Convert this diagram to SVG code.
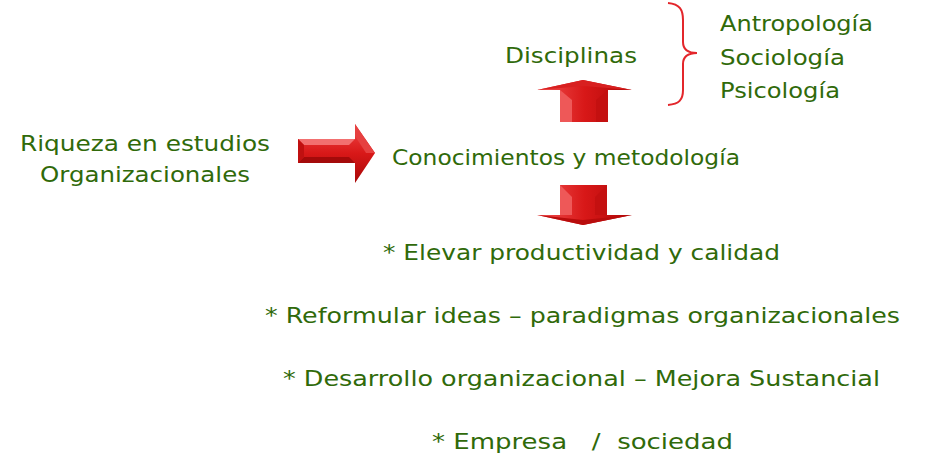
<svg xmlns="http://www.w3.org/2000/svg" width="926" height="476" viewBox="0 0 926 476">
<style>
.t{font-family:"DejaVu Sans","Liberation Sans",sans-serif;font-size:21px;fill:#306a0a;}
.br{fill:none;stroke:#e3262b;stroke-width:2;}
</style>
<defs>
<linearGradient id="gh" x1="0" y1="0" x2="0" y2="1">
<stop offset="0" stop-color="#f04848"/><stop offset="0.5" stop-color="#d81818"/><stop offset="1" stop-color="#a80808"/>
</linearGradient>
<linearGradient id="gv" x1="0" y1="0" x2="1" y2="0">
<stop offset="0" stop-color="#f05050"/><stop offset="0.5" stop-color="#d81818"/><stop offset="1" stop-color="#b00808"/>
</linearGradient>
</defs>
<g id="connectors">
<g id="arrow-right">
<polygon points="298,139 355,139 355,124 375,153 355,183 355,163 298,163" fill="url(#gh)"/>
<polygon points="298,139 355,139 349,145 304,145" fill="#f27070"/>
<polygon points="298,163 355,163 349,157 304,157" fill="#a40a0a"/>
<polygon points="298,139 304,145 304,157 298,163" fill="#c01010"/>
<polygon points="355,124 375,153 366,153 355,136" fill="#e64040"/>
</g>
<g id="arrow-up">
<polygon points="537,90 583,80 632,90 608,90 608,122 560,122 560,90" fill="url(#gv)"/>
<polygon points="560,90 572,100 572,122 560,122" fill="#ee5858"/>
<polygon points="608,90 596,100 596,122 608,122" fill="#c41010"/>
<polygon points="537,90 583,80 632,90 583,86" fill="#d82020"/>
</g>
<g id="arrow-down">
<polygon points="560,185 607,185 607,215 632,215 583,225 537,215 560,215" fill="url(#gv)"/>
<polygon points="560,185 572,197 572,215 560,215" fill="#ee5858"/>
<polygon points="607,185 595,197 595,215 607,215" fill="#c41010"/>
<polygon points="537,215 583,225 632,215 583,220" fill="#b80c0c"/>
</g>
<path id="brace" class="br" d="M668,3 C680,4 683,10 683,20 L683,42 C683,50 688,53 697,53 C688,53 683,57 683,64 L683,90 C683,100 679,104 668,105"/>
</g>
<g id="node-riqueza">
<text class="t" x="20" y="151" textLength="250" lengthAdjust="spacingAndGlyphs">Riqueza en estudios</text>
<text class="t" x="40" y="182" textLength="210" lengthAdjust="spacingAndGlyphs">Organizacionales</text>
</g>
<g id="node-conocimientos">
<text class="t" x="392" y="165" textLength="348" lengthAdjust="spacingAndGlyphs">Conocimientos y metodología</text>
</g>
<g id="node-disciplinas">
<text class="t" x="505" y="63" textLength="132" lengthAdjust="spacingAndGlyphs">Disciplinas</text>
</g>
<g id="node-lista-disciplinas">
<text class="t" x="720" y="31" textLength="153" lengthAdjust="spacingAndGlyphs">Antropología</text>
<text class="t" x="720" y="65" textLength="125" lengthAdjust="spacingAndGlyphs">Sociología</text>
<text class="t" x="720" y="98" textLength="120" lengthAdjust="spacingAndGlyphs">Psicología</text>
</g>
<g id="node-resultados">
<text class="t" x="383" y="260" textLength="397" lengthAdjust="spacingAndGlyphs">* Elevar productividad y calidad</text>
<text class="t" x="265" y="323" textLength="635" lengthAdjust="spacingAndGlyphs">* Reformular ideas – paradigmas organizacionales</text>
<text class="t" x="283" y="386" textLength="597" lengthAdjust="spacingAndGlyphs">* Desarrollo organizacional – Mejora Sustancial</text>
<text class="t" x="432" y="449" textLength="301" lengthAdjust="spacingAndGlyphs" xml:space="preserve">* Empresa   /  sociedad</text>
</g>
</svg>
